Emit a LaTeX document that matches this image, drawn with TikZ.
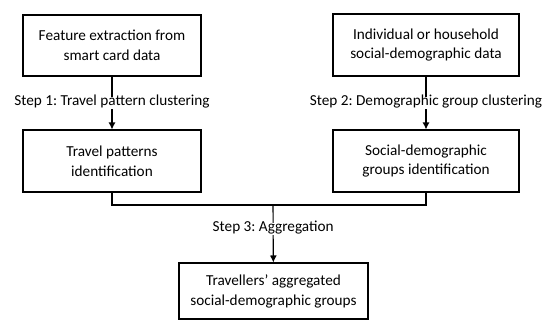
\documentclass[tikz,border=0pt]{standalone}
\usepackage{fontspec}
\setmainfont{Carlito}
\frenchspacing
\usetikzlibrary{arrows.meta,positioning}
\tikzset{%
  font=\fontsize{15.3}{20}\selectfont,>={Latex[length=7pt,width=7pt]},
  box/.style={draw,rectangle,line width=1.1pt,align=center,inner sep=2pt},
  lbl/.style={fill=white,inner sep=1pt,text height=1.6ex,text depth=.5ex},
  line/.style={draw,line width=1.1pt}
}
\begin{document}
\begin{tikzpicture}[x=1bp,y=-1bp]
	\useasboundingbox (0,0) rectangle (542,320);
	\node[box,minimum width=178bp,minimum height=61bp] (feat) at (112,45.5) {Feature extraction from\\smart card data};
	\node[box,minimum width=178bp,minimum height=62bp] (trav) at (112,161) {Travel patterns\\identification};
	\node[box,minimum width=186bp,minimum height=62bp] (indiv) at (426,45) {Individual or household\\social-demographic data};
	\node[box,minimum width=186bp,minimum height=62bp] (socdem) at (426,161) {Social-demographic\\groups identification};
	\node[box,minimum width=189bp,minimum height=56bp] (aggr) at (273.5,291) {Travellers' aggregated\\social-demographic groups};
	\coordinate (join) at (273,205);
	% steps
	\draw[line,->] (feat) -- node[lbl] {Step 1: Travel pattern clustering} (trav);
	\draw[line,->] (indiv) -- node[lbl] {Step 2: Demographic group clustering} (socdem);
	\draw[line] (trav.south) |- (join) -| (socdem.south);
	\draw[line,->] (join) -- node[lbl,pos=.42] {Step 3: Aggregation} (aggr);
\end{tikzpicture}
\end{document}
